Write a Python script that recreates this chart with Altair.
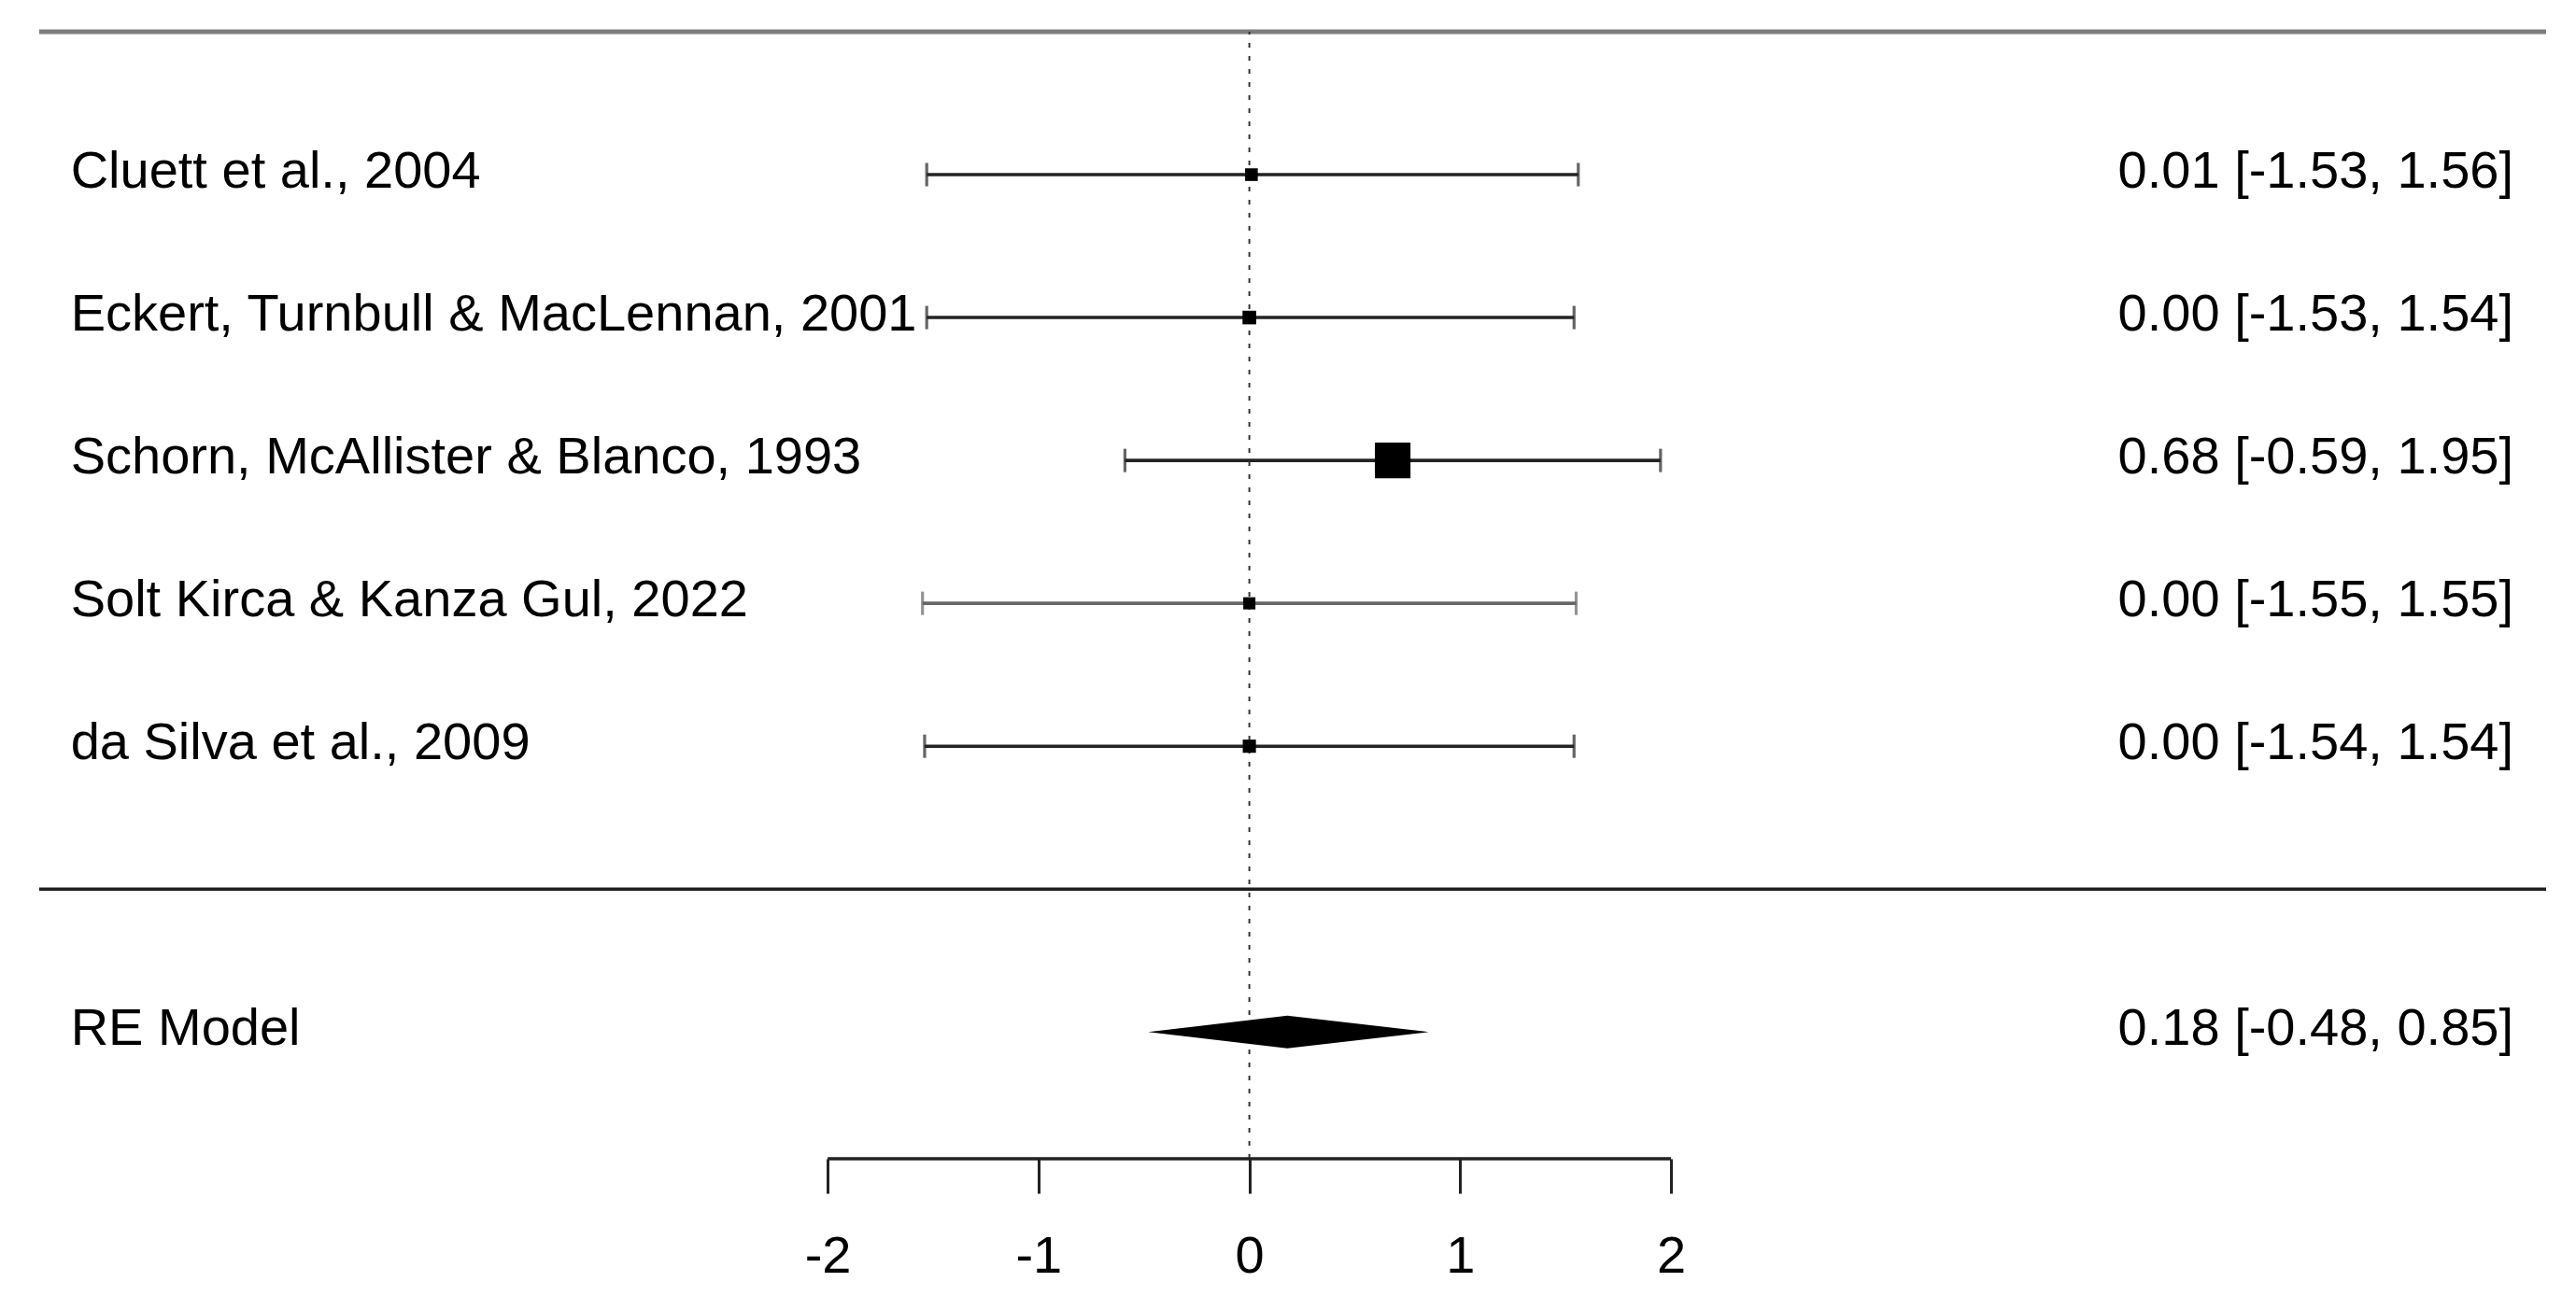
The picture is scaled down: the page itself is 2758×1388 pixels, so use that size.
import altair as alt
import pandas as pd

# ---------------- data ----------------
studies = [
    "Cluett et al., 2004",
    "Eckert, Turnbull & MacLennan, 2001",
    "Schorn, McAllister & Blanco, 1993",
    "Solt Kirca & Kanza Gul, 2022",
    "da Silva et al., 2009",
]
estimates = [0.01, 0.00, 0.68, 0.00, 0.00]
ci_lower = [-1.53, -1.53, -0.59, -1.55, -1.54]
ci_upper = [1.56, 1.54, 1.95, 1.55, 1.54]
weights = [18.2, 18.4, 26.9, 18.1, 18.3]  # percent weights (marker size)

summary_label = "RE Model"
summary_est = 0.18
summary_lo = -0.48
summary_hi = 0.85

tick_values = [-2, -1, 0, 1, 2]

# ---------------- layout constants ----------------
X_MIN, X_MAX = -5.739, 6.150
Y_MIN, Y_TOP = -1.887, 6.0
SUMMARY_ROW = -1
SEP_ROW = 0
LABEL_X = -5.59
RIGHT_X = 5.995
DIAMOND_H = 0.115
FONT = "Liberation Sans"
FS = 56

k = len(studies)
rows = [k - i for i in range(k)]
df = pd.DataFrame({
    "study": studies,
    "est": estimates,
    "lo": ci_lower,
    "hi": ci_upper,
    "w": weights,
    "row": rows,
})
df["txt"] = [f"{e:.2f} [{l:.2f}, {h:.2f}]" for e, l, h in zip(estimates, ci_lower, ci_upper)]

summ = pd.DataFrame({
    "label": [summary_label],
    "row": [SUMMARY_ROW],
    "txt": [f"{summary_est:.2f} [{summary_lo:.2f}, {summary_hi:.2f}]"],
})
diamond = pd.DataFrame({
    "x": [summary_lo, summary_est, summary_hi],
    "y": [SUMMARY_ROW, SUMMARY_ROW + DIAMOND_H, SUMMARY_ROW],
    "y2": [SUMMARY_ROW, SUMMARY_ROW - DIAMOND_H, SUMMARY_ROW],
})

xscale = alt.Scale(domain=[X_MIN, X_MAX], nice=False, zero=False)
yscale = alt.Scale(domain=[Y_MIN, Y_TOP], nice=False, zero=False)

xaxis = alt.Axis(
    values=tick_values, domain=False, grid=False, ticks=True,
    tickSize=37, tickWidth=3, tickColor="#222222",
    labelFont=FONT, labelFontSize=FS, labelColor="black",
    labelPadding=40, labelExpr="'' + datum.value", title=None,
    labelFlush=False, labelOverlap=False,
)

one = pd.DataFrame({"a": [0]})

# horizontal reference lines
top_line = alt.Chart(one).mark_rule(color="#7d7d7d", strokeWidth=5).encode(
    x=alt.datum(X_MIN, scale=xscale), x2=alt.datum(X_MAX),
    y=alt.datum(Y_TOP, scale=yscale),
)
sep_line = alt.Chart(one).mark_rule(color="#1e1e1e", strokeWidth=3.5).encode(
    x=alt.datum(X_MIN), x2=alt.datum(X_MAX), y=alt.datum(SEP_ROW),
)
zero_line = alt.Chart(one).mark_rule(color="#333333", strokeWidth=2, strokeDash=[5, 9]).encode(
    x=alt.datum(0), y=alt.datum(Y_MIN), y2=alt.datum(Y_TOP),
)
axis_line = alt.Chart(one).mark_rule(color="#222222", strokeWidth=3.5).encode(
    x=alt.datum(tick_values[0]), x2=alt.datum(tick_values[-1]), y=alt.datum(Y_MIN),
)

line_color = alt.condition(
    alt.datum.study == "Solt Kirca & Kanza Gul, 2022", alt.value("#666666"), alt.value("#232323")
)

ci = alt.Chart(df).mark_rule(strokeWidth=3.6).encode(
    x=alt.X("lo:Q", scale=xscale, axis=xaxis),
    x2="hi:Q",
    y=alt.Y("row:Q", scale=yscale, axis=None),
    color=line_color,
)
cap_lo = alt.Chart(df).mark_tick(orient="vertical", size=25, thickness=3.2).encode(
    x="lo:Q", y="row:Q", color=line_color,
)
cap_hi = alt.Chart(df).mark_tick(orient="vertical", size=25, thickness=3.2).encode(
    x="hi:Q", y="row:Q", color=line_color,
)
pts = alt.Chart(df).mark_square(color="black", opacity=1, filled=True).encode(
    x="est:Q", y="row:Q",
    size=alt.Size("w:Q", scale=alt.Scale(domain=[min(weights), max(weights)], range=[170, 1450]), legend=None),
)

dia = alt.Chart(diamond).mark_area(color="black", opacity=1, interpolate="linear").encode(
    x="x:Q", y="y:Q", y2="y2:Q",
)

left_txt = alt.Chart(df).mark_text(
    align="left", baseline="middle", font=FONT, fontSize=FS, color="black", dy=-3,
).encode(x=alt.datum(LABEL_X), y="row:Q", text="study:N")
right_txt = alt.Chart(df).mark_text(
    align="right", baseline="middle", font=FONT, fontSize=FS, color="black", dy=-3,
).encode(x=alt.datum(RIGHT_X), y="row:Q", text="txt:N")
summ_left = alt.Chart(summ).mark_text(
    align="left", baseline="middle", font=FONT, fontSize=FS, color="black", dy=-3,
).encode(x=alt.datum(LABEL_X), y="row:Q", text="label:N")
summ_right = alt.Chart(summ).mark_text(
    align="right", baseline="middle", font=FONT, fontSize=FS, color="black", dy=-3,
).encode(x=alt.datum(RIGHT_X), y="row:Q", text="txt:N")

chart = alt.layer(
    ci, top_line, sep_line, zero_line, axis_line, cap_lo, cap_hi, pts, dia,
    left_txt, right_txt, summ_left, summ_right,
).properties(
    width=2684, height=1207,
    autosize=alt.AutoSizeParams(type="none"),
    padding={"left": 34, "top": 26, "right": 24, "bottom": 140},
    background="white",
).configure_view(stroke=None)

chart.save("out.html", embed_options={"renderer": "svg", "actions": False})
